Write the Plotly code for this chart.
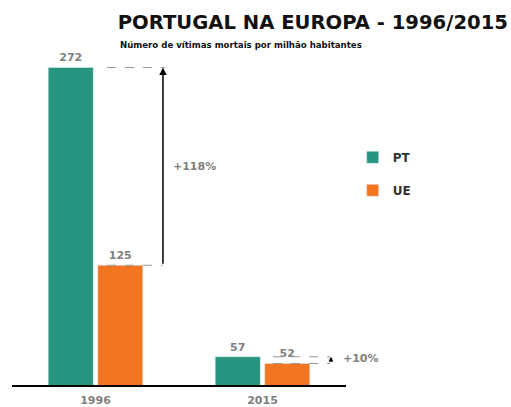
import plotly.graph_objects as go

years = ["1996", "2015"]
pt_values = [272, 57]
ue_values = [125, 52]
series_names = ["PT", "UE"]
change_labels = ["+118%", "+10%"]

TEAL = "#26957f"
ORANGE = "#f27522"
GRAY = "#7f7f7f"
FONT = "DejaVu Sans"

fig = go.Figure()
fig.add_trace(go.Bar(
    x=years, y=pt_values, name="<b>" + series_names[0] + "</b>", marker_color=TEAL,
    text=["<b>%d</b>" % v for v in pt_values], textposition="outside",
    textfont=dict(color=GRAY, size=11, family=FONT), cliponaxis=False,
    legendgroup="a",
))
fig.add_trace(go.Bar(
    x=years, y=ue_values, name="<b>" + series_names[1] + "</b>", marker_color=ORANGE,
    text=["<b>%d</b>" % v for v in ue_values], textposition="outside",
    textfont=dict(color=GRAY, size=11, family=FONT), cliponaxis=False,
    legendgroup="b",
))

dash = dict(color="#999999", width=1, dash="dash")
# 1996 comparison
fig.add_shape(type="line", xref="x", yref="y", x0=0.069, x1=0.416,
              y0=pt_values[0], y1=pt_values[0], line=dash)
fig.add_shape(type="line", xref="x", yref="y", x0=0.069, x1=0.404,
              y0=ue_values[0], y1=ue_values[0], line=dash)
fig.add_annotation(x=0.404, y=pt_values[0], ax=0.404, ay=ue_values[0],
                   xref="x", yref="y", axref="x", ayref="y", text="",
                   showarrow=True, arrowhead=2, arrowsize=1, arrowwidth=1.5,
                   arrowcolor="black")
fig.add_annotation(x=0.45, y=(pt_values[0] + ue_values[0]) / 2,
                   xref="x", yref="y", text="<b>" + change_labels[0] + "</b>", showarrow=False,
                   xanchor="left", font=dict(color=GRAY, size=11, family=FONT))
# 2015 comparison
fig.add_shape(type="line", xref="x", yref="y", x0=1.063, x1=1.404,
              y0=pt_values[1], y1=pt_values[1], line=dash)
fig.add_shape(type="line", xref="x", yref="y", x0=1.063, x1=1.404,
              y0=ue_values[1], y1=ue_values[1], line=dash)
fig.add_annotation(x=1.41, y=pt_values[1], ax=1.41, ay=ue_values[1],
                   xref="x", yref="y", axref="x", ayref="y", text="",
                   showarrow=True, arrowhead=2, arrowsize=0.8, arrowwidth=1.2,
                   arrowcolor="black")
fig.add_annotation(x=1.47, y=(pt_values[1] + ue_values[1]) / 2 + 1,
                   xref="x", yref="y", text="<b>" + change_labels[1] + "</b>", showarrow=False,
                   xanchor="left", font=dict(color=GRAY, size=11, family=FONT))

fig.add_annotation(x=(118 - 12) / 334, y=1 + (50 - 45) / 335, xref="paper", yref="paper",
                   text="<b>Número de vítimas mortais por milhão habitantes</b>",
                   showarrow=False, xanchor="left", yanchor="middle",
                   font=dict(color="#111111", size=8.6, family=FONT))

fig.update_layout(
    width=511, height=407,
    margin=dict(l=12, r=165, t=50, b=22, autoexpand=False),
    plot_bgcolor="white", paper_bgcolor="white",
    title=dict(text="<b>PORTUGAL NA EUROPA - 1996/2015</b>",
               x=0.994, xanchor="right", xref="container", y=0.945, yref="container",
               yanchor="middle",
               font=dict(size=19.6, color="#111111", family=FONT)),
    barmode="group", bargap=0.407, bargroupgap=0.09,
    showlegend=True,
    legend=dict(x=1.02, y=0.723, xanchor="left", yanchor="top",
                traceorder="grouped", tracegroupgap=14,
                font=dict(size=12, color="#333333", family=FONT)),
    xaxis=dict(showline=True, linecolor="black", linewidth=2, ticks="",
               range=[-0.5, 1.5], tickfont=dict(color=GRAY, size=11, family=FONT),
               tickmode="array", tickvals=years, ticktext=["<b>%s</b>" % y for y in years],
               ticklabelstandoff=4,
               showgrid=False, fixedrange=True, automargin=False),
    yaxis=dict(range=[36, 285], visible=False, showgrid=False, zeroline=False,
               automargin=False),
)

fig.write_html("out.html", config={"displayModeBar": False},
               post_script="document.body.style.margin='0';document.body.style.overflow='hidden';")
